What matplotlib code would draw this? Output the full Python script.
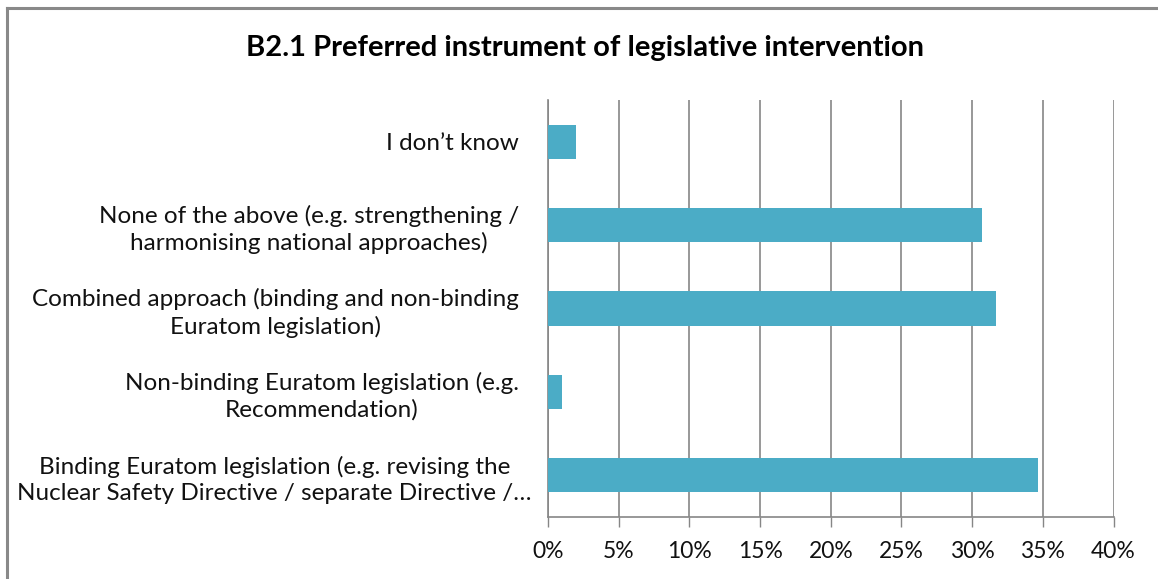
import matplotlib
matplotlib.use("Agg")
import matplotlib.pyplot as plt
from matplotlib.lines import Line2D
import matplotlib.transforms as mtransforms

categories = [
    "Binding Euratom legislation (e.g. revising the\nNuclear Safety Directive / separate Directive /\u2026",
    "Non-binding Euratom legislation (e.g.\nRecommendation)",
    "Combined approach (binding and non-binding\nEuratom legislation)",
    "None of the above (e.g. strengthening /\nharmonising national approaches)",
    "I don\u2019t know",
]
values = [34.65, 0.99, 31.68, 30.69, 1.98]
xticks = [0, 5, 10, 15, 20, 25, 30, 35, 40]
xtick_labels = ["0%", "5%", "10%", "15%", "20%", "25%", "30%", "35%", "40%"]
title = "B2.1 Preferred instrument of legislative intervention"

plt.rcParams['font.family'] = ['Lato', 'DejaVu Sans']

W, H = 1158, 579
fig = plt.figure(figsize=(W / 100, H / 100), dpi=100)
fig.patch.set_facecolor("white")

left, right, top, bottom = 548, 1113.5, 100, 517
ax = fig.add_axes([left / W, 1 - bottom / H, (right - left) / W, (bottom - top) / H])

ypos = list(range(len(categories)))
ax.barh(ypos, values, height=0.41, color="#4BACC6", zorder=3)
ax.set_ylim(-0.5, len(categories) - 0.5)
ax.set_xlim(0, 40)
ax.set_xticks(xticks)
ax.set_xticklabels(xtick_labels, fontsize=16.5, color="#111111")
ax.set_yticks(ypos)
ax.set_yticklabels(categories, fontsize=17.5, color="#111111", multialignment="center", linespacing=1.28)
ax.tick_params(axis="y", length=0, pad=21)
ax.tick_params(axis="x", length=7, width=1, color="#868686", pad=10)
ax.grid(axis="x", color="#868686", linewidth=1.2, zorder=0)
for s in ["top", "right"]:
    ax.spines[s].set_visible(False)
ax.spines["left"].set_color("#868686")
ax.spines["bottom"].set_color("#868686")
ax.spines["left"].set_linewidth(1.2)
ax.spines["bottom"].set_linewidth(1.2)

# longest label overflows toward the axis
lbl = ax.get_yticklabels()[0]
lbl.set_transform(lbl.get_transform() + mtransforms.ScaledTranslation(13 / 100, 0, fig.dpi_scale_trans))

fig.text(585 / W, 1 - 48 / H, title, ha="center", va="center", fontsize=21, fontweight="bold", color="#000000")

# chart frame (left and top edges)
fig.add_artist(Line2D([7.5 / W, 7.5 / W], [0, 1 - 8 / H], transform=fig.transFigure, color="#898989", linewidth=2.2))
fig.add_artist(Line2D([7.5 / W, 1], [1 - 8 / H, 1 - 8 / H], transform=fig.transFigure, color="#898989", linewidth=2.2))

fig.savefig("out.png", dpi=100, facecolor="white")
